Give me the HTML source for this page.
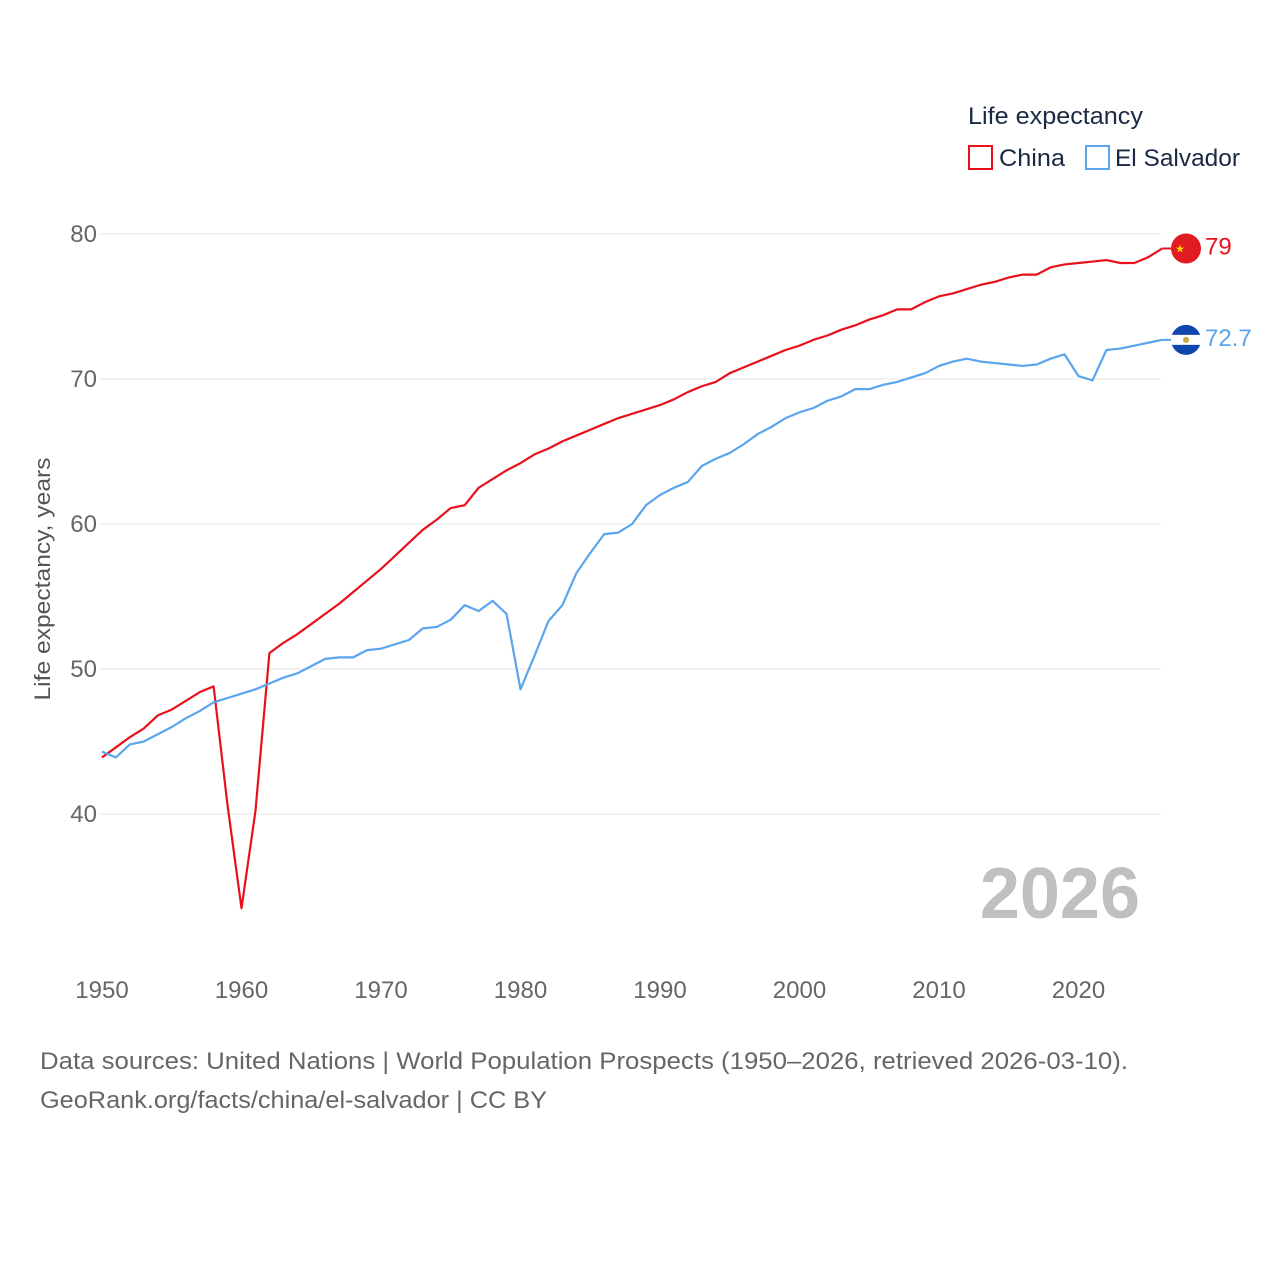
<!DOCTYPE html>
<html><head><meta charset="utf-8"><style>
body{margin:0;background:#fff;font-family:"Liberation Sans",sans-serif}
svg text{font-family:"Liberation Sans",sans-serif}
</style></head><body>
<svg id="c" width="1280" height="1280" xmlns="http://www.w3.org/2000/svg">
<g id="grid"></g>
<text x="1140" y="918" text-anchor="end" font-size="72" font-weight="bold" fill="#c0c0c0">2026</text>
<g id="series"></g>
<text transform="translate(50,579) rotate(-90)" text-anchor="middle" font-size="22" fill="#555" textLength="243" lengthAdjust="spacingAndGlyphs">Life expectancy, years</text>
<text x="968" y="124" font-size="24" fill="#1a2a44" textLength="175" lengthAdjust="spacingAndGlyphs">Life expectancy</text>
<g><rect x="969" y="146" width="23" height="23" fill="none" stroke="#e8111b" stroke-width="2"/><text x="999" y="166" font-size="24" fill="#1a2a44" textLength="66" lengthAdjust="spacingAndGlyphs">China</text></g>
<g><rect x="1086" y="146" width="23" height="23" fill="none" stroke="#5ba4ee" stroke-width="2"/><text x="1115" y="166" font-size="24" fill="#1a2a44" textLength="125" lengthAdjust="spacingAndGlyphs">El Salvador</text></g>
<text x="40" y="1069" font-size="24" fill="#666" textLength="1088" lengthAdjust="spacingAndGlyphs">Data sources: United Nations | World Population Prospects (1950–2026, retrieved 2026-03-10).</text>
<text x="40" y="1108" font-size="24" fill="#666" textLength="507" lengthAdjust="spacingAndGlyphs">GeoRank.org/facts/china/el-salvador | CC BY</text>
</svg>
<script>
const years=[];for(let y=1950;y<=2026;y++)years.push(y);
const china=[43.9,44.6,45.3,45.9,46.8,47.2,47.8,48.4,48.8,40.6,33.5,40.2,51.1,51.8,52.4,53.1,53.8,54.5,55.3,56.1,56.9,57.8,58.7,59.6,60.3,61.1,61.3,62.5,63.1,63.7,64.2,64.8,65.2,65.7,66.1,66.5,66.9,67.3,67.6,67.9,68.2,68.6,69.1,69.5,69.8,70.4,70.8,71.2,71.6,72.0,72.3,72.7,73.0,73.4,73.7,74.1,74.4,74.8,74.8,75.3,75.7,75.9,76.2,76.5,76.7,77.0,77.2,77.2,77.7,77.9,78.0,78.1,78.2,78.0,78.0,78.4,79.0];
const salvador=[44.3,43.9,44.8,45.0,45.5,46.0,46.6,47.1,47.7,48.0,48.3,48.6,49.0,49.4,49.7,50.2,50.7,50.8,50.8,51.3,51.4,51.7,52.0,52.8,52.9,53.4,54.4,54.0,54.7,53.8,48.6,50.9,53.3,54.4,56.6,58.0,59.3,59.4,60.0,61.3,62.0,62.5,62.9,64.0,64.5,64.9,65.5,66.2,66.7,67.3,67.7,68.0,68.5,68.8,69.3,69.3,69.6,69.8,70.1,70.4,70.9,71.2,71.4,71.2,71.1,71.0,70.9,71.0,71.4,71.7,70.2,69.9,72.0,72.1,72.3,72.5,72.7];
const yTicks=[40,50,60,70,80];
const xTicks=[1950,1960,1970,1980,1990,2000,2010,2020];
const NS="http://www.w3.org/2000/svg";
const X=v=>102+(v-1950)*13.95;
const Y=v=>814-(v-40)*14.5;
const grid=document.getElementById('grid'),ser=document.getElementById('series');
function mk(t,a,p){const e=document.createElementNS(NS,t);for(const k in a)e.setAttribute(k,a[k]);p.appendChild(e);return e;}
yTicks.forEach(t=>{
 const l=mk('line',{x1:100,x2:1161,y1:Y(t),y2:Y(t),stroke:'#e6e6e6','stroke-width':1},grid);
 
 
 const tx=mk('text',{x:97,y:Y(t)+8,'text-anchor':'end','font-size':24,fill:'#666'},grid);tx.textContent=t;
 
 
});
xTicks.forEach(t=>{
 const tx=mk('text',{x:X(t),y:998,'text-anchor':'middle','font-size':24,fill:'#666'},grid);tx.textContent=t;
 
 
});
function line(d,col,name){
 const p=mk('polyline',{points:d.map((v,i)=>X(years[i])+','+Y(v)).join(' '),fill:'none',stroke:col,'stroke-width':2.2,'stroke-linejoin':'round'},ser);
 
 
 const last=d[d.length-1],yy=Y(last);
 mk('line',{x1:X(2026),x2:1180,y1:yy,y2:yy,stroke:col,'stroke-width':2},ser);
 return yy;
}
const yc=line(china,'#e8111b','line-china');
const ys=line(salvador,'#5ba4ee','line-el-salvador');
let g=mk('g',{},ser);
mk('circle',{cx:1186,cy:yc,r:15,fill:'#e11b22'},g);
let s=mk('text',{x:1180,y:yc+4,'font-size':11,fill:'#ffde00','text-anchor':'middle'},g);s.textContent='★';
let lc=mk('text',{x:1205,y:yc+6,'font-size':24,fill:'#e8111b'},ser);lc.textContent=china[china.length-1];


g=mk('g',{},ser);
mk('circle',{cx:1186,cy:ys,r:15,fill:'#0f47af'},g);
mk('rect',{x:1171,y:ys-5,width:30,height:10,fill:'#fff'},g);
mk('circle',{cx:1186,cy:ys,r:3,fill:'#c8a93a'},g);
let ls=mk('text',{x:1205,y:ys+6,'font-size':24,fill:'#5ba4ee'},ser);ls.textContent=salvador[salvador.length-1];


</script>
</body></html>
